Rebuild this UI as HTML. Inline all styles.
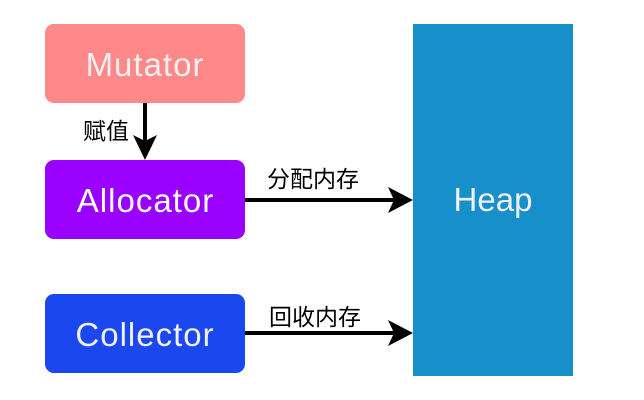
<!DOCTYPE html>
<html>
<head>
<meta charset="utf-8">
<style>
html,body{margin:0;padding:0;background:#fff;}
svg{display:block;}
.t{font-family:"Liberation Sans",Arial,sans-serif;font-size:33px;letter-spacing:1px;}
.c{font-family:"Liberation Sans","Noto Sans CJK SC",sans-serif;font-size:23px;fill:#000;}
</style>
</head>
<body>
<svg width="644" height="400" viewBox="0 0 644 400" xmlns="http://www.w3.org/2000/svg">
  <rect x="0" y="0" width="644" height="400" fill="#ffffff"/>
  <!-- Mutator -->
  <rect x="45" y="24" width="200" height="79" rx="9" ry="9" fill="#FF8888"/>
  <text class="t" x="145" y="76" text-anchor="middle" fill="#F0F0F0">Mutator</text>
  <!-- Allocator -->
  <rect x="45" y="160" width="200" height="79" rx="9" ry="9" fill="#9900FF"/>
  <text class="t" x="145.5" y="212" text-anchor="middle" fill="#FFFFFF">Allocator</text>
  <!-- Collector -->
  <rect x="45" y="294" width="200" height="79" rx="9" ry="9" fill="#1A47EE"/>
  <text class="t" x="145" y="346" text-anchor="middle" fill="#F0F0F0">Collector</text>
  <!-- Heap -->
  <rect x="413" y="24" width="160" height="352" fill="#168FCA"/>
  <text class="t" x="493" y="211" text-anchor="middle" fill="#F0F0F0" style="letter-spacing:0">Heap</text>

  <!-- vertical arrow -->
  <line x1="145" y1="103" x2="145" y2="142" stroke="#000" stroke-width="4"/>
  <path d="M145 160 L133 135 L145 141 L157 135 Z" fill="#000"/>
  <text class="c" x="83" y="139">赋值</text>

  <!-- allocator arrow -->
  <line x1="245" y1="200" x2="394" y2="200" stroke="#000" stroke-width="4"/>
  <path d="M413 200 L388 187 L394 200 L388 213 Z" fill="#000"/>
  <text class="c" x="267" y="187">分配内存</text>

  <!-- collector arrow -->
  <line x1="245" y1="333" x2="394" y2="333" stroke="#000" stroke-width="4"/>
  <path d="M413 333 L388 320 L394 333 L388 346 Z" fill="#000"/>
  <text class="c" x="269" y="325">回收内存</text>
</svg>
</body>
</html>
